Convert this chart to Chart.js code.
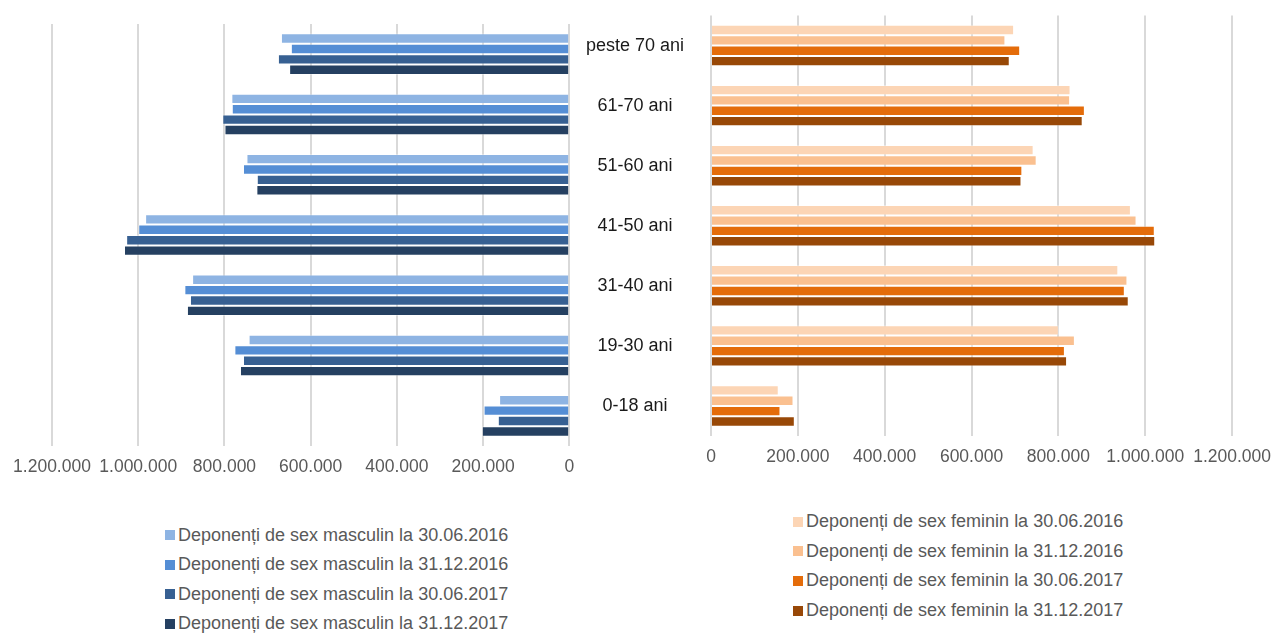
<!DOCTYPE html>
<html>
<head>
<meta charset="utf-8">
<script src="https://cdn.jsdelivr.net/npm/chart.js@4"></script>
<style>
  html, body { margin: 0; padding: 0; background: #ffffff; }
  body { width: 1282px; height: 633px; position: relative; overflow: hidden; font-family: "Liberation Sans", Arial, sans-serif; }
  #wrapL { position: absolute; left: 0; top: 0; width: 600px; height: 490px; }
  #wrapR { position: absolute; left: 586px; top: 0; width: 696px; height: 480px; }
  .legend { position: absolute; font-size: 18px; color: #595959; }
  .legend .item { height: 29.6px; line-height: 29.6px; white-space: nowrap; position: relative; padding-left: 13px; }
  .legend .box { position: absolute; left: 0; top: 9.8px; width: 10px; height: 10px; }
  #legL { left: 165px; top: 520.5px; }
  #legR { left: 793px; top: 507px; }
</style>
</head>
<body>
<div id="wrapL"><canvas id="chartL"></canvas></div>
<div id="wrapR"><canvas id="chartR"></canvas></div>
<div id="legL" class="legend"></div>
<div id="legR" class="legend"></div>
<script>
// ---- data (top to bottom) ----
const categories = ["peste 70 ani", "61-70 ani", "51-60 ani", "41-50 ani", "31-40 ani", "19-30 ani", "0-18 ani"];

const maleLabels = [
  "Deponenți de sex masculin la 30.06.2016",
  "Deponenți de sex masculin la 31.12.2016",
  "Deponenți de sex masculin la 30.06.2017",
  "Deponenți de sex masculin la 31.12.2017"
];
const femaleLabels = [
  "Deponenți de sex feminin la 30.06.2016",
  "Deponenți de sex feminin la 31.12.2016",
  "Deponenți de sex feminin la 30.06.2017",
  "Deponenți de sex feminin la 31.12.2017"
];

const male_30_06_2016 = [669000, 784000, 749000, 984000, 875000, 744000, 163000];
const male_31_12_2016 = [646000, 783000, 757000, 1000000, 893000, 777000, 199000];
const male_30_06_2017 = [676000, 805000, 725000, 1028000, 880000, 757000, 166000];
const male_31_12_2017 = [650000, 800000, 726000, 1033000, 887000, 764000, 203000];

const female_30_06_2016 = [698000, 828000, 743000, 967000, 938000, 801000, 156000];
const female_31_12_2016 = [678000, 827000, 750000, 980000, 959000, 838000, 190000];
const female_30_06_2017 = [712000, 861000, 717000, 1022000, 953000, 815000, 160000];
const female_31_12_2017 = [688000, 856000, 715000, 1023000, 962000, 820000, 193000];

const xTicks = [0, 200000, 400000, 600000, 800000, 1000000, 1200000];

const maleColors = ["#8EB4E3", "#558ED5", "#376092", "#254061"];
const femaleColors = ["#FCD5B5", "#FAC090", "#E46C0A", "#984807"];

function fmt(v) {
  return String(Math.round(v)).replace(/\B(?=(\d{3})+(?!\d))/g, ".");
}

const FONT = "'Liberation Sans', Arial, sans-serif";
Chart.defaults.font.family = FONT;
Chart.defaults.animation = false;

function mkDatasets(labels, series, colors) {
  return series.map((d, i) => ({
    label: labels[i],
    data: d,
    backgroundColor: colors[i],
    borderColor: "rgba(255,255,255,0.35)",
    borderWidth: 1,
    categoryPercentage: 0.69,
    barPercentage: 1.0
  }));
}

function xScale(reverse) {
  return {
    type: "linear",
    reverse: reverse,
    min: 0,
    max: 1200000,
    afterBuildTicks: s => { s.ticks = xTicks.map(v => ({ value: v })); },
    afterFit: s => { s.height = 44; },
    grid: { color: "#D9D9D9", lineWidth: 2, drawTicks: false },
    border: { display: false },
    ticks: {
      color: "#595959",
      font: { size: 17.5, family: FONT },
      padding: 11,
      maxRotation: 0,
      autoSkip: false,
      callback: v => fmt(v)
    }
  };
}

new Chart(document.getElementById("chartL"), {
  type: "bar",
  data: {
    labels: categories,
    datasets: mkDatasets(maleLabels, [male_30_06_2016, male_31_12_2016, male_30_06_2017, male_31_12_2017], maleColors)
  },
  options: {
    indexAxis: "y",
    responsive: true,
    maintainAspectRatio: false,
    layout: { padding: { left: 52, right: 30.6, top: 24, bottom: 0 } },
    scales: {
      x: xScale(true),
      y: { display: false }
    },
    plugins: { legend: { display: false }, tooltip: { enabled: false } }
  }
});

new Chart(document.getElementById("chartR"), {
  type: "bar",
  data: {
    labels: categories,
    datasets: mkDatasets(femaleLabels, [female_30_06_2016, female_31_12_2016, female_30_06_2017, female_31_12_2017], femaleColors)
  },
  options: {
    indexAxis: "y",
    responsive: true,
    maintainAspectRatio: false,
    layout: { padding: { left: 0, right: 43, top: 15.5, bottom: 0 } },
    scales: {
      x: xScale(false),
      y: {
        position: "left",
        afterFit: s => { s.width = 125; s.paddingTop = 0; s.paddingBottom = 0; },
        grid: { display: false, drawTicks: false },
        border: { display: false },
        ticks: {
          color: "#1a1a1a",
          font: { size: 18, family: FONT },
          crossAlign: "center",
          padding: 27
        }
      }
    },
    plugins: { legend: { display: false }, tooltip: { enabled: false } }
  }
});

function buildLegend(id, labels, colors) {
  const el = document.getElementById(id);
  labels.forEach((t, i) => {
    const it = document.createElement("div");
    it.className = "item";
    const b = document.createElement("span");
    b.className = "box";
    b.style.background = colors[i];
    it.appendChild(b);
    it.appendChild(document.createTextNode(t));
    el.appendChild(it);
  });
}
buildLegend("legL", maleLabels, maleColors);
buildLegend("legR", femaleLabels, femaleColors);
</script>
</body>
</html>
